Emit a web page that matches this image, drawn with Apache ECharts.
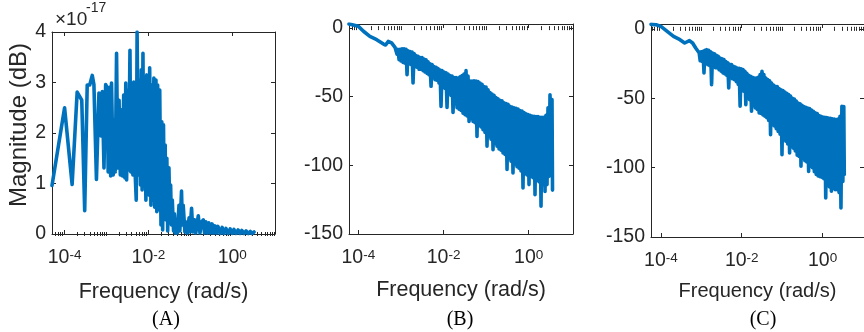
<!DOCTYPE html>
<html><head><meta charset="utf-8">
<script src="https://cdn.jsdelivr.net/npm/echarts@6/dist/echarts.min.js"></script>
<style>html,body{margin:0;padding:0;background:#fff}#chart{width:864px;height:332px}</style>
</head><body><div id="chart"></div>
<script>
// ---- tick labels ----
const xTickValues = [1e-4, 1e-2, 1];          // rad/s
const yTicksA = [0, 1, 2, 3, 4];              // x 1e-17
const yTicksBC = [-150, -100, -50, 0];        // dB

// ---- data: frequency given as log10(rad/s), magnitude ----
// Panel A (magnitude in units of 1e-17)
const freqExpA = [-4.30,-4.00,-3.82,-3.70,-3.59,-3.52,-3.46,-3.40,-3.34,-3.30,-3.24,-3.18,-3.13,-3.10,-3.06,-3.02,-2.98,-2.96,-2.92,-2.90,-2.88,-2.84,-2.82,-2.79,-2.76,-2.73,-2.70,-2.67,-2.65,-2.62,-2.59,-2.56,-2.54,-2.52,-2.49,-2.47,-2.44,-2.42,-2.40,-2.37,-2.35,-2.33,-2.29,-2.27,-2.24,-2.22,-2.19,-2.17,-2.15,-2.13,-2.11,-2.09,-2.06,-2.04,-2.02,-2.00,-1.98,-1.97,-1.94,-1.92,-1.90,-1.87,-1.85,-1.82,-1.80,-1.78,-1.75,-1.73,-1.70,-1.68,-1.66,-1.64,-1.62,-1.60,-1.58,-1.56,-1.54,-1.51,-1.49,-1.47,-1.45,-1.43,-1.40,-1.38,-1.36,-1.33,-1.31,-1.27,-1.25,-1.21,-1.19,-1.17,-1.13,-1.11,-1.07,-1.03,-1.01,-0.97,-0.94,-0.90,-0.87,-0.81,-0.77,-0.73,-0.69,-0.66,-0.63,-0.59,-0.56,-0.52,-0.48,-0.45,-0.41,-0.38,-0.34,-0.29,-0.24,-0.20,-0.15,-0.10,-0.05,0.00,0.04,0.09,0.14,0.19,0.23,0.28,0.33,0.38,0.43,0.47,0.52];
const magA = [0.96,2.50,0.98,2.81,2.65,0.46,2.95,2.95,3.14,2.96,1.08,2.79,1.94,2.82,1.31,2.96,2.89,1.23,2.91,1.15,2.99,1.17,2.26,1.23,3.58,1.31,2.65,1.17,2.46,1.15,2.75,1.11,2.99,1.07,2.85,1.27,3.64,1.23,2.81,1.17,3.01,1.47,0.67,4.00,1.17,3.05,0.97,3.25,0.87,3.58,1.07,2.95,0.67,3.15,0.93,3.05,0.77,3.29,0.57,2.95,0.67,3.09,0.53,3.05,0.44,2.95,0.48,2.85,0.18,2.22,0.08,2.16,0.38,1.76,0.28,1.50,0.06,1.31,0.38,0.97,0.18,0.67,0.06,0.40,0.02,0.24,0.02,0.57,0.06,0.85,0.18,0.57,0.04,0.24,0.02,0.32,0.04,0.51,0.04,0.28,0.02,0.36,0.02,0.24,0.28,0.02,0.24,0.02,0.22,0.02,0.20,0.02,0.16,0.02,0.15,0.01,0.13,0.01,0.11,0.01,0.10,0.01,0.09,0.01,0.08,0.01,0.07,0.01,0.06,0.01,0.05,0.01,0.04];

// Panel B (dB)
const freqExpB = [-4.22,-4.12,-4.00,-3.88,-3.73,-3.57,-3.41,-3.36,-3.30,-3.22,-3.14,
-3.115,-3.092,-3.068,-3.045,-3.021,-2.998,-2.974,-2.951,-2.927,-2.904,-2.880,-2.857,-2.833,-2.810,-2.786,-2.763,-2.739,-2.716,-2.692,-2.669,
-2.646,-2.622,-2.599,-2.575,-2.552,-2.528,-2.505,-2.481,-2.458,-2.434,-2.411,-2.387,-2.364,-2.340,-2.317,-2.293,-2.270,-2.246,-2.223,-2.199,
-2.176,-2.153,-2.129,-2.106,-2.082,-2.059,-2.035,-2.012,-1.988,-1.965,-1.941,-1.918,-1.894,-1.871,-1.847,-1.824,-1.800,-1.777,-1.754,-1.730,
-1.707,-1.683,-1.660,-1.636,-1.613,-1.589,-1.566,-1.542,-1.519,-1.495,-1.472,-1.448,-1.425,-1.401,-1.378,-1.354,-1.331,-1.307,-1.284,-1.260,
-1.237,-1.214,-1.190,-1.167,-1.143,-1.120,-1.096,-1.073,-1.049,-1.026,-1.002,-0.979,-0.955,-0.932,-0.908,-0.885,-0.862,-0.838,-0.815,-0.791,
-0.768,-0.744,-0.721,-0.697,-0.674,-0.650,-0.627,-0.603,-0.580,-0.556,-0.533,-0.509,-0.486,-0.462,-0.439,-0.416,-0.392,-0.369,-0.345,-0.322,
-0.298,-0.275,-0.251,-0.228,-0.204,-0.181,-0.157,-0.134,-0.110,-0.087,-0.063,-0.040,-0.016,0.007,0.031,0.054,0.077,0.101,0.124,0.148,
0.171,0.195,0.218,0.242,0.265,0.289,0.312,0.336,0.359,0.383,0.406,0.430,0.453,0.477,0.500,0.523,0.547,0.559];
const magB = [3.0,2.3,1.3,-2.3,-6.0,-8.4,-11.6,-12.3,-9.7,-10.8,-14.0,
-14,-19,-15.5,-23,-15.5,-24,-15,-25,-15,-25.5,-15.5,-34,-16.5,-26,-17,-26.5,-17.5,-40,-18.5,-28,
-20,-28.5,-20.5,-30,-21.5,-30,-21.5,-31,-22.5,-32,-23,-33,-24.5,-34,-26,-42.4,-26.5,-36,-28,-37.5,
-28.5,-38,-29.5,-40,-30.5,-57,-31,-43,-32,-44,-32.5,-57.8,-33.5,-47,-34.5,-49,-35,-61.4,-36,-55,
-36,-58,-36.3,-59,-35.5,-60,-34.5,-62,-33.5,-63,-31,-64,-35,-68,-38.5,-66,-38.5,-68,-38.3,-69,
-38.5,-79,-39,-71,-40,-72,-41,-74,-42.5,-76,-43,-86,-45,-79,-47,-81,-48,-88.6,-49,-84,
-50.5,-86,-51.5,-88,-52.5,-89,-53,-91,-54.5,-92,-55,-103,-55.5,-95,-57,-97,-57.5,-105.6,-58,-99,
-58.5,-101,-59,-102,-60,-104,-60.5,-116.5,-61.5,-106,-62.5,-107,-63,-114,-63.5,-108,-64,-109,-64.3,-121.4,
-64.5,-111,-64.5,-112,-65,-129.8,-65,-114,-65,-119,-63.5,-114,-58,-108,-48.5,-100,-52,-118];

// Panel C (dB)
const freqExpC = [-4.245,-4.118,-4.00,-3.845,-3.687,-3.529,-3.412,-3.374,-3.294,-3.216,-3.139,
-3.052,-3.028,-3.005,-2.981,-2.958,-2.934,-2.911,-2.887,-2.864,-2.840,-2.817,-2.793,-2.770,-2.746,-2.723,-2.699,-2.675,-2.652,-2.628,-2.605,
-2.581,-2.558,-2.534,-2.511,-2.487,-2.464,-2.440,-2.417,-2.393,-2.369,-2.346,-2.322,-2.299,-2.275,-2.252,-2.228,-2.205,-2.181,-2.158,-2.134,
-2.111,-2.087,-2.064,-2.040,-2.016,-1.993,-1.969,-1.946,-1.922,-1.899,-1.875,-1.852,-1.828,-1.805,-1.781,-1.758,-1.734,-1.711,-1.687,-1.663,
-1.640,-1.616,-1.593,-1.569,-1.546,-1.522,-1.499,-1.475,-1.452,-1.428,-1.405,-1.381,-1.357,-1.334,-1.310,-1.287,-1.263,-1.240,-1.216,-1.193,
-1.169,-1.146,-1.122,-1.099,-1.075,-1.051,-1.028,-1.004,-0.981,-0.957,-0.934,-0.910,-0.887,-0.863,-0.840,-0.816,-0.793,-0.769,-0.745,-0.722,
-0.698,-0.675,-0.651,-0.628,-0.604,-0.581,-0.557,-0.534,-0.510,-0.487,-0.463,-0.439,-0.416,-0.392,-0.369,-0.345,-0.322,-0.298,-0.275,-0.251,
-0.228,-0.204,-0.181,-0.157,-0.133,-0.110,-0.086,-0.063,-0.039,-0.016,0.008,0.031,0.055,0.078,0.102,0.125,0.149,0.172,0.196,0.219,
0.243,0.266,0.290,0.313,0.337,0.361,0.384,0.408,0.431,0.455,0.478,0.502,0.525,0.537];
const magC = [3.2,3.0,1.8,-1.8,-5.4,-7.8,-10.2,-10.9,-8.5,-10.2,-13.8,
-17.4,-23,-16.5,-23.4,-16.2,-31.8,-15.5,-25,-15,-25.8,-15.5,-26.5,-16.5,-40.2,-17.5,-27,-18,-28,-19,-28.2,
-19.8,-29.5,-21,-30.5,-21.5,-31.8,-22.2,-32.5,-23.5,-33.5,-24.5,-42.6,-25.5,-35,-25.8,-36,-27,-36.6,-27.5,-38,
-28.2,-40,-28.5,-55.8,-28.8,-43,-29.4,-45,-30.5,-54.7,-32,-49,-33.5,-51,-34.2,-59.4,-35,-55,-35.4,-57,
-35.5,-58,-35,-60.6,-33,-61,-30.5,-62,-33,-63,-35.4,-64,-36.5,-66,-37.5,-76.3,-39,-69,-40.5,-70,
-41.4,-72,-41.5,-74,-43,-76,-43.9,-90.7,-44.5,-79,-45.5,-81,-46.5,-83,-47.4,-89.5,-48.5,-85,-50,-86,
-50.5,-88,-52,-91,-53.4,-92,-54,-99,-55,-93,-56,-95,-56.5,-96,-57,-102.7,-57.5,-99,-58.5,-100,
-59.4,-103,-60.5,-105,-61,-106,-62.5,-106.5,-63,-107,-63.5,-108,-63.8,-121.9,-64,-113,-64.2,-114,-64.5,-117,
-64.8,-115,-65,-116,-65.4,-116,-65,-118,-63,-129.1,-55.8,-110,-56,-105];

// ---- styling / layout ----
const BLUE = '#0072BD';
const AX = '#262626';
const SANS = '"Liberation Sans", Arial, Helvetica, sans-serif';
const SERIF = '"Liberation Serif", "Times New Roman", serif';
const grids = [
  {left: 52, top: 32, width: 223, height: 202},
  {left: 349, top: 24, width: 224, height: 210},
  {left: 651, top: 24, width: 224, height: 213}
];
const xRanges = [[-4.3, 1.02], [-4.22, 1.04], [-4.245, 1.025]];
const yRanges = [[0, 4], [-150, 3], [-150, 3.5]];
const xNameSize = [21.5, 21.5, 20];
const xNameGap = [47, 45, 44];

function minorTicks(lo, hi) {
  const out = [];
  for (let k = Math.floor(lo); k <= Math.ceil(hi); k++) {
    for (let m = 1; m <= 9; m++) {
      if (m === 1 && k % 2 === 0) continue;
      const v = m * Math.pow(10, k);
      const lv = Math.log10(v);
      if (lv > lo && lv < hi) out.push(v);
    }
  }
  return out;
}
const tickRich = {
  b: {fontSize: 19.5, lineHeight: 20, verticalAlign: 'bottom', fontFamily: SANS, color: AX},
  s: {fontSize: 13.5, lineHeight: 10, verticalAlign: 'top', fontFamily: SANS, color: AX}
};
function xFmt(v) {
  const e = Math.round(Math.log10(v));
  return '{b|10}{s|' + e + '}';
}
const xAxes = [], yAxes = [], series = [];
const datasets = [[freqExpA, magA], [freqExpB, magB], [freqExpC, magC]];
for (let i = 0; i < 3; i++) {
  const [lo, hi] = xRanges[i];
  const base = {type: 'log', logBase: 10, gridIndex: i, min: Math.pow(10, lo), max: Math.pow(10, hi),
    splitLine: {show: false}, minorTick: {show: false}, minorSplitLine: {show: false}};
  const line = {show: true, onZero: false, lineStyle: {color: AX, width: 1}};
  const major = {show: true, inside: true, length: 4, customValues: xTickValues, lineStyle: {color: AX, width: 1}};
  const minor = {show: true, inside: true, length: 2, customValues: minorTicks(lo, hi), lineStyle: {color: AX, width: 1}};
  xAxes.push(Object.assign({}, base, {position: 'bottom', axisLine: line, axisTick: major,
    axisLabel: {show: true, customValues: xTickValues, margin: 14, formatter: xFmt, rich: tickRich},
    name: 'Frequency (rad/s)', nameLocation: 'middle', nameGap: xNameGap[i],
    nameTextStyle: {fontSize: xNameSize[i], fontFamily: SANS, color: AX}}));
  xAxes.push(Object.assign({}, base, {position: 'top', axisLine: line, axisTick: major, axisLabel: {show: false}}));
  xAxes.push(Object.assign({}, base, {position: 'bottom', axisLine: {show: false}, axisTick: minor, axisLabel: {show: false}}));
  xAxes.push(Object.assign({}, base, {position: 'top', axisLine: {show: false}, axisTick: minor, axisLabel: {show: false}}));

  const [ylo, yhi] = yRanges[i];
  const yt = i === 0 ? yTicksA : yTicksBC;
  const ybase = {type: 'value', gridIndex: i, min: ylo, max: yhi, splitLine: {show: false}};
  const ytick = {show: true, inside: true, length: 4, customValues: yt, lineStyle: {color: AX, width: 1}};
  const yl = Object.assign({}, ybase, {position: 'left', axisLine: line, axisTick: ytick,
    axisLabel: {show: true, customValues: yt, margin: 6, fontSize: 19.5, fontFamily: SANS, color: AX}});
  if (i === 0) {
    Object.assign(yl, {name: 'Magnitude (dB)', nameLocation: 'middle', nameGap: 21,
      nameTextStyle: {fontSize: 24, fontFamily: SANS, color: AX, padding: [0, 0, 0, 16]}});
  }
  yAxes.push(yl);
  yAxes.push(Object.assign({}, ybase, {position: 'right', axisLine: line, axisTick: ytick, axisLabel: {show: false}}));

  const [fe, mg] = datasets[i];
  series.push({type: 'line', xAxisIndex: 4 * i, yAxisIndex: 2 * i, symbol: 'none', showSymbol: false,
    data: fe.map((e, j) => [Math.pow(10, e), mg[j]]),
    lineStyle: {color: BLUE, width: 3.6, join: 'round', cap: 'round'}, itemStyle: {color: BLUE},
    emphasis: {disabled: true}, clip: true});
}

const chart = echarts.init(document.getElementById('chart'), null, {renderer: 'canvas'});
chart.setOption({
  animation: false,
  backgroundColor: '#fff',
  grid: grids,
  xAxis: xAxes,
  yAxis: yAxes,
  series: series,
  graphic: [
    {type: 'text', x: 55, y: 20, style: {text: '×10', fontSize: 19, fontFamily: SANS, fill: AX, textAlign: 'left', textVerticalAlign: 'middle'}},
    {type: 'text', x: 86, y: 8.5, style: {text: '-17', fontSize: 14, fontFamily: SANS, fill: AX, textAlign: 'left', textVerticalAlign: 'middle'}},
    {type: 'text', x: 166, y: 320, style: {text: '(A)', fontSize: 20, fontFamily: SERIF, fill: '#000', textAlign: 'center', textVerticalAlign: 'middle'}},
    {type: 'text', x: 460, y: 320, style: {text: '(B)', fontSize: 20, fontFamily: SERIF, fill: '#000', textAlign: 'center', textVerticalAlign: 'middle'}},
    {type: 'text', x: 763, y: 320, style: {text: '(C)', fontSize: 20, fontFamily: SERIF, fill: '#000', textAlign: 'center', textVerticalAlign: 'middle'}}
  ]
});
</script></body></html>
